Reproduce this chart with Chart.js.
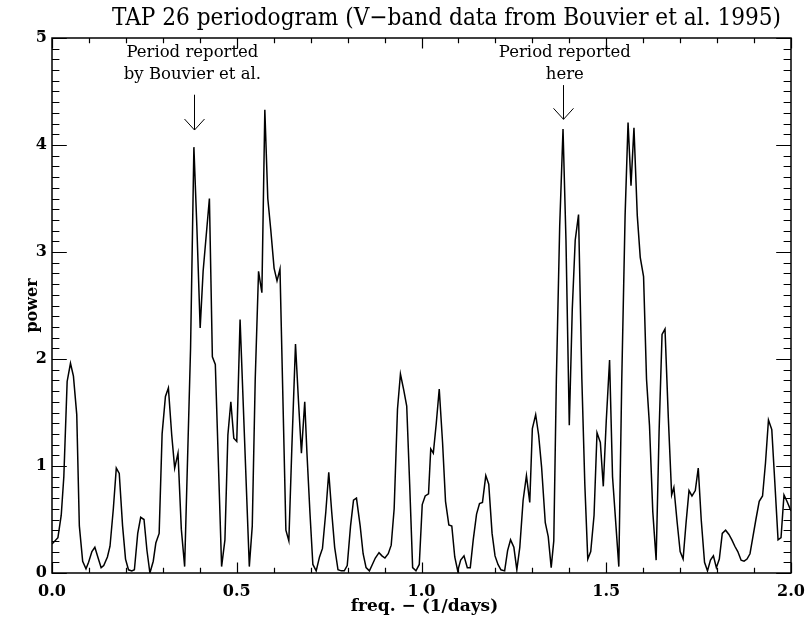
<!DOCTYPE html>
<html>
<head>
<meta charset="utf-8">
<script src="https://cdn.jsdelivr.net/npm/chart.js@4/dist/chart.umd.min.js"></script>
<style>
  html, body { margin: 0; padding: 0; background: #ffffff; }
  #wrap { width: 807px; height: 623px; }
</style>
</head>
<body>
<div id="wrap"><canvas id="c" width="807" height="623"></canvas></div>
<script>
// ---- data ----
const chartTitle = "TAP 26 periodogram (V\u2212band data from Bouvier et al. 1995)";
const xTitle = "freq. \u2212 (1/days)";
const yTitle = "power";
const xTickLabels = ["0.0", "0.5", "1.0", "1.5", "2.0"];
const yTickLabels = ["0", "1", "2", "3", "4", "5"];

const freq = [
  0.000,0.016,0.025,0.032,0.041,0.050,0.058,0.067,0.074,0.083,0.092,0.099,0.108,0.116,0.124,0.133,0.140,0.150,0.157,0.166,
  0.174,0.182,0.191,0.199,0.207,0.216,0.223,0.232,0.240,0.249,0.257,0.265,0.274,0.281,0.290,0.298,0.307,0.315,0.324,0.332,
  0.341,0.350,0.359,0.375,0.384,0.392,0.401,0.409,0.417,0.426,0.434,0.442,0.459,0.468,0.476,0.484,0.492,0.500,0.509,0.534,
  0.542,0.550,0.559,0.568,0.576,0.584,0.592,0.601,0.609,0.617,0.633,0.641,0.649,0.659,0.667,0.675,0.684,0.690,0.698,0.706,
  0.715,0.724,0.732,0.741,0.749,0.757,0.765,0.774,0.783,0.791,0.799,0.808,0.816,0.824,0.834,0.842,0.850,0.859,0.867,0.875,
  0.885,0.893,0.901,0.910,0.918,0.926,0.935,0.943,0.952,0.960,0.968,0.976,0.985,0.994,1.002,1.010,1.019,1.025,1.032,1.040,
  1.048,1.057,1.065,1.074,1.082,1.090,1.098,1.106,1.115,1.124,1.132,1.140,1.149,1.157,1.165,1.174,1.182,1.191,1.199,1.207,
  1.215,1.225,1.233,1.241,1.250,1.258,1.266,1.275,1.284,1.293,1.300,1.309,1.317,1.325,1.335,1.343,1.351,1.358,1.365,1.374,
  1.383,1.391,1.400,1.408,1.416,1.425,1.434,1.442,1.450,1.458,1.467,1.475,1.484,1.492,1.500,1.509,1.517,1.534,1.542,1.551,
  1.559,1.567,1.575,1.584,1.592,1.601,1.609,1.617,1.626,1.635,1.643,1.651,1.659,1.668,1.677,1.683,1.692,1.700,1.708,1.716,
  1.724,1.732,1.741,1.749,1.757,1.766,1.774,1.782,1.790,1.798,1.806,1.814,1.823,1.832,1.840,1.848,1.856,1.865,1.873,1.881,
  1.889,1.897,1.905,1.914,1.923,1.931,1.939,1.948,1.956,1.965,1.973,1.981,1.989,2.000
];
const power = [
  0.27,0.33,0.54,0.90,1.79,1.96,1.84,1.48,0.44,0.11,0.04,0.10,0.20,0.24,0.15,0.05,0.07,0.15,0.25,0.60,
  0.98,0.93,0.44,0.13,0.03,0.02,0.03,0.37,0.52,0.50,0.21,0.00,0.11,0.28,0.37,1.30,1.65,1.73,1.29,0.98,
  1.12,0.41,0.06,2.10,3.98,3.24,2.29,2.82,3.14,3.50,2.02,1.95,0.06,0.31,1.29,1.60,1.26,1.23,2.37,0.06,
  0.44,1.81,2.82,2.62,4.33,3.50,3.21,2.85,2.73,2.84,0.40,0.30,1.16,2.14,1.61,1.12,1.60,1.12,0.57,0.08,
  0.02,0.15,0.23,0.57,0.94,0.57,0.24,0.03,0.02,0.02,0.07,0.44,0.68,0.70,0.44,0.18,0.05,0.02,0.08,0.14,
  0.19,0.16,0.14,0.18,0.26,0.60,1.53,1.86,1.71,1.56,0.83,0.05,0.02,0.08,0.64,0.72,0.74,1.16,1.12,1.40,
  1.72,1.22,0.67,0.45,0.44,0.15,0.02,0.12,0.16,0.05,0.05,0.31,0.55,0.65,0.66,0.91,0.83,0.37,0.16,0.08,
  0.03,0.02,0.21,0.31,0.24,0.03,0.24,0.68,0.91,0.66,1.35,1.48,1.29,0.99,0.47,0.34,0.05,0.30,1.81,3.24,
  4.15,3.11,1.38,2.46,3.11,3.35,1.81,0.83,0.13,0.20,0.54,1.31,1.22,0.81,1.42,1.99,0.90,0.06,1.81,3.34,
  4.21,3.62,4.16,3.34,2.95,2.77,1.81,1.38,0.57,0.12,1.32,2.23,2.28,1.45,0.73,0.80,0.47,0.20,0.13,0.47,
  0.77,0.72,0.77,0.98,0.50,0.10,0.02,0.12,0.16,0.05,0.13,0.37,0.40,0.36,0.31,0.25,0.20,0.12,0.11,0.13,
  0.18,0.34,0.50,0.67,0.72,1.03,1.43,1.34,0.86,0.31,0.33,0.73,0.67,0.58
];

// annotation labels and the frequency / power they point to
const noteLines = [["Period reported", "by Bouvier et al."], ["Period reported", "here"]];
const noteFreq = [0.384, 1.383];
const noteTextFreq = [0.380, 1.388];

const points = freq.map((f, i) => ({ x: f, y: power[i] }));

const SERIF = "'DejaVu Serif', 'Liberation Serif', serif";

const idlPlugin = {
  id: 'idlDecor',
  afterDraw(chart) {
    const ctx = chart.ctx;
    const xs = chart.scales.x, ys = chart.scales.y;
    const a = chart.chartArea;
    ctx.save();
    ctx.strokeStyle = '#000';
    ctx.fillStyle = '#000';
    // frame
    ctx.lineWidth = 1.5;
    ctx.strokeRect(a.left, a.top, a.right - a.left, a.bottom - a.top);
    // x ticks (bottom & top, inward)
    ctx.lineWidth = 1.2;
    for (let i = 0; i <= 20; i++) {
      const v = i / 10;
      const px = Math.round(xs.getPixelForValue(v)) + 0.5;
      const len = (i % 5 === 0) ? 10.5 : 5.3;
      ctx.beginPath();
      ctx.moveTo(px, a.bottom); ctx.lineTo(px, a.bottom - len);
      ctx.moveTo(px, a.top); ctx.lineTo(px, a.top + len);
      ctx.stroke();
    }
    // y ticks (left & right, inward)
    for (let i = 0; i <= 50; i++) {
      const v = i / 10;
      const py = Math.round(ys.getPixelForValue(v)) + 0.5;
      const len = (i % 10 === 0) ? 14.8 : 7.4;
      ctx.beginPath();
      ctx.moveTo(a.left, py); ctx.lineTo(a.left + len, py);
      ctx.moveTo(a.right, py); ctx.lineTo(a.right - len, py);
      ctx.stroke();
    }
    // annotations
    ctx.font = "16.5px " + SERIF;
    ctx.textAlign = 'center';
    ctx.textBaseline = 'middle';
    const lineY = [4.86, 4.655];
    const arrowTop = [4.47, 4.56];
    const arrowTip = [4.14, 4.24];
    for (let k = 0; k < noteLines.length; k++) {
      const tx = xs.getPixelForValue(noteTextFreq[k]);
      noteLines[k].forEach((t, j) => {
        ctx.fillText(t, tx, ys.getPixelForValue(lineY[j]));
      });
      const ax = Math.round(xs.getPixelForValue(noteFreq[k])) + 0.5;
      const y0 = ys.getPixelForValue(arrowTop[k]);
      const y1 = ys.getPixelForValue(arrowTip[k]);
      ctx.lineWidth = 1;
      ctx.beginPath();
      ctx.moveTo(ax, y0); ctx.lineTo(ax, y1);
      ctx.moveTo(ax - 10, y1 - 11); ctx.lineTo(ax, y1); ctx.lineTo(ax + 10, y1 - 11);
      ctx.stroke();
    }
    // main title, fitted to the reference width
    ctx.font = "24px 'DejaVu Serif Condensed', " + SERIF;
    ctx.textAlign = 'left';
    ctx.textBaseline = 'middle';
    const w = ctx.measureText(chartTitle).width;
    const targetW = 669;
    const cx = 446.5;
    ctx.save();
    ctx.translate(cx - targetW / 2, 19);
    ctx.scale(targetW / w, 1);
    ctx.fillText(chartTitle, 0, 0);
    ctx.restore();
    // axis titles
    ctx.font = "bold 17px " + SERIF;
    ctx.textAlign = 'center';
    ctx.fillText(xTitle, (a.left + a.right) / 2 + 3, 607);
    ctx.font = "bold 16px " + SERIF;
    ctx.save();
    ctx.translate(33, (a.top + a.bottom) / 2);
    ctx.rotate(-Math.PI / 2);
    ctx.fillText(yTitle, 0, 0);
    ctx.restore();
    ctx.restore();
  }
};

new Chart(document.getElementById('c'), {
  type: 'line',
  data: {
    datasets: [{
      data: points,
      borderColor: '#000',
      borderWidth: 1.5,
      pointRadius: 0,
      tension: 0,
      fill: false
    }]
  },
  options: {
    responsive: false,
    animation: false,
    events: [],
    layout: { padding: { top: 38, right: 16, left: 0, bottom: 0 } },
    plugins: { legend: { display: false }, tooltip: { enabled: false }, title: { display: false } },
    scales: {
      x: {
        type: 'linear', min: 0, max: 2,
        grid: { display: false, drawTicks: false },
        border: { display: false },
        afterFit(s) { s.height = 50; s.paddingLeft = 0; s.paddingRight = 0; },
        afterBuildTicks(s) { s.ticks = xTickLabels.map(t => ({ value: parseFloat(t) })); },
        ticks: {
          padding: 9,
          color: '#000',
          font: { family: SERIF, size: 16, weight: 'bold' },
          maxRotation: 0,
          callback: (v) => xTickLabels.find(t => parseFloat(t) === v)
        }
      },
      y: {
        type: 'linear', min: 0, max: 5,
        grid: { display: false, drawTicks: false },
        border: { display: false },
        afterFit(s) { s.width = 52; s.paddingTop = 0; s.paddingBottom = 0; },
        afterBuildTicks(s) { s.ticks = yTickLabels.map(t => ({ value: parseFloat(t) })); },
        ticks: {
          padding: 5,
          color: '#000',
          font: { family: SERIF, size: 16, weight: 'bold' },
          callback: (v) => yTickLabels.find(t => parseFloat(t) === v)
        }
      }
    }
  },
  plugins: [idlPlugin]
});
</script>
</body>
</html>
